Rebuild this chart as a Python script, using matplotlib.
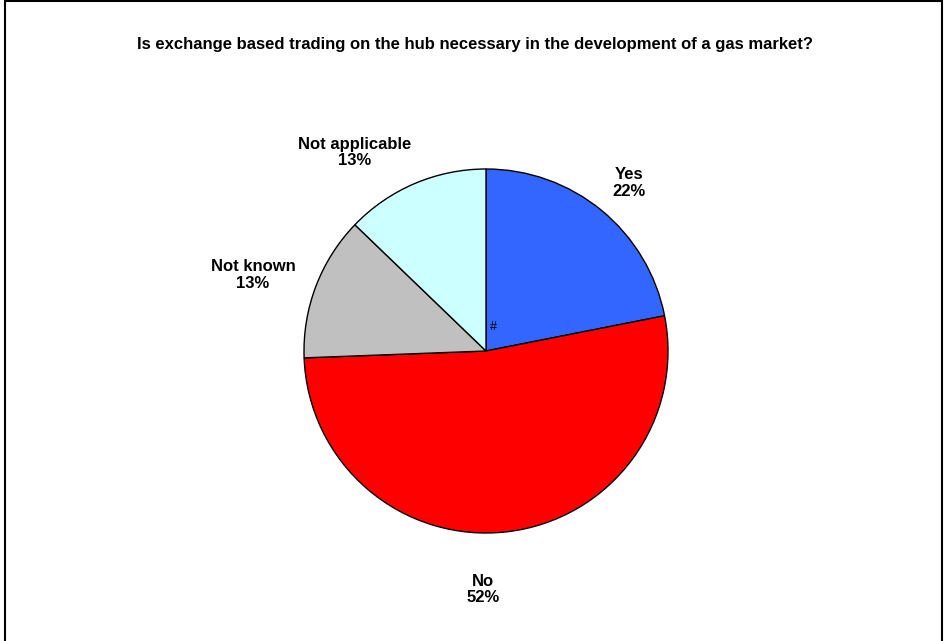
import matplotlib
matplotlib.use("Agg")
import matplotlib.pyplot as plt
from matplotlib.patches import Rectangle

plt.rcParams['font.family'] = ['Liberation Sans', 'DejaVu Sans']

title = "Is exchange based trading on the hub necessary in the development of a gas market?"
categories = ["Yes", "No", "Not known", "Not applicable"]
values = [21.9, 52.5, 12.8, 12.8]
percent_labels = ["22%", "52%", "13%", "13%"]
colors = ["#3366FF", "#FF0000", "#C0C0C0", "#CCFFFF"]
# label text positions in pie-radius units (layout)
label_xy = [(0.786, 0.923), (-0.016, -1.31), (-1.28, 0.418), (-0.72, 1.09)]

W, H = 951, 641
fig = plt.figure(figsize=(W / 100, H / 100), dpi=100)
cx, cy, R = 486, 351, 182
ax = fig.add_axes([(cx - R) / W, (H - cy - R) / H, 2 * R / W, 2 * R / H])
wedges, _ = ax.pie(values, colors=colors, startangle=90, counterclock=False,
                   radius=1, wedgeprops=dict(edgecolor='black', linewidth=1.0))
ax.set_xlim(-1, 1)
ax.set_ylim(-1, 1)
ax.set_aspect('equal')
ax.axis('off')

for cat, pct, (lx, ly) in zip(categories, percent_labels, label_xy):
    ax.text(lx, ly, f"{cat}\n{pct}", ha='center', va='center', fontsize=12,
            fontweight='bold', linespacing=1.1, clip_on=False)

ax.text(0.04, 0.13, "#", fontsize=9, ha='center', va='center', color='black')

fig.text(475 / W, 1 - 44 / H, title, ha='center', va='center', fontsize=12, fontweight='bold')

fig.patches.append(Rectangle((5 / W, -0.05), (942 - 5) / W, 1.05 - 1.5 / H,
                             transform=fig.transFigure, fill=False,
                             edgecolor='black', linewidth=1.5))

fig.savefig("out.png", dpi=100, facecolor='white')
